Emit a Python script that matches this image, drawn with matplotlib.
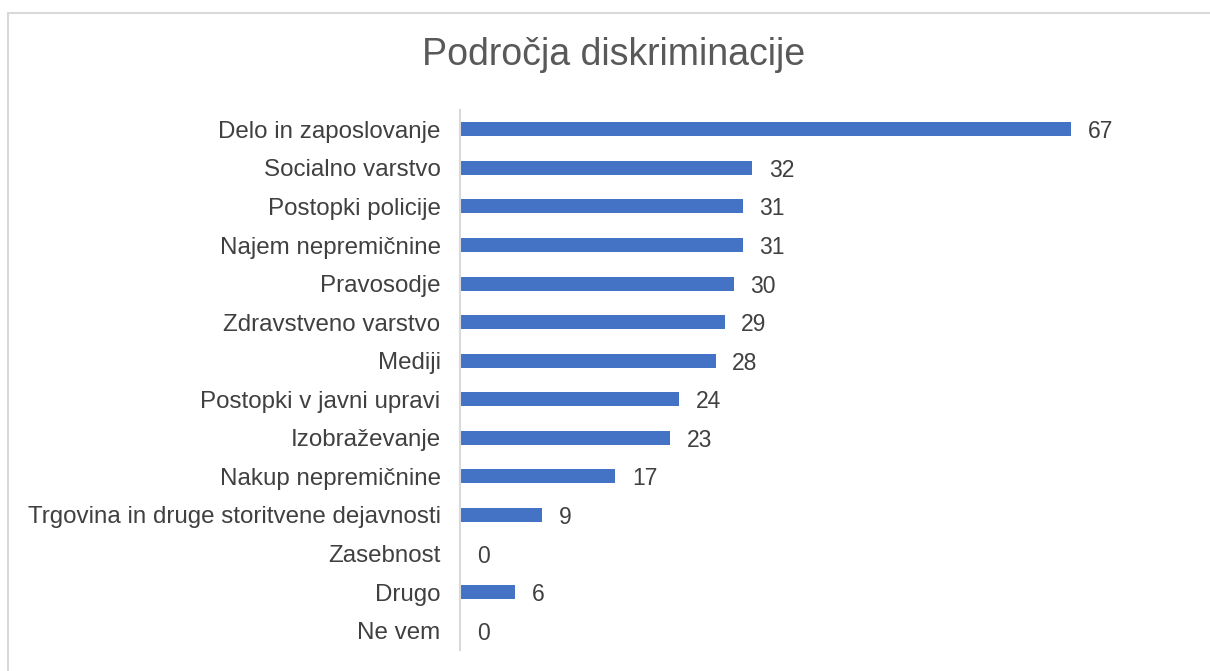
import matplotlib as mpl
mpl.use('Agg')
from matplotlib import pyplot as plt
from matplotlib.patches import Rectangle

plt.rcParams['font.family'] = ['Liberation Sans', 'DejaVu Sans']

categories = ['Delo in zaposlovanje', 'Socialno varstvo', 'Postopki policije',
              'Najem nepremičnine', 'Pravosodje', 'Zdravstveno varstvo', 'Mediji',
              'Postopki v javni upravi', 'Izobraževanje', 'Nakup nepremičnine',
              'Trgovina in druge storitvene dejavnosti', 'Zasebnost', 'Drugo', 'Ne vem']
values = [67, 32, 31, 31, 30, 29, 28, 24, 23, 17, 9, 0, 6, 0]

W, H = 1210, 671
fig = plt.figure(figsize=(W / 100, H / 100), dpi=100)

# light outer frame of the chart area
fig.patches.append(Rectangle((8 / W, -0.1), 1.1, (H - 13) / H + 0.1, transform=fig.transFigure,
                             fill=False, edgecolor='#d9d9d9', linewidth=1.5))

ax = fig.add_axes([460 / W, 21 / H, 730 / W, 540 / H])
y = list(range(len(categories)))
ax.barh(y, values, height=0.36, color='#4472C4')
ax.set_ylim(len(categories) - 0.5, -0.5)
ax.set_xlim(0, 80)

for yi, v in zip(y, values):
    ax.annotate(str(v), (v, yi), xytext=(12, 0), textcoords='offset points',
                va='center_baseline', ha='left', fontsize=16.5, color='#404040')

ax.set_yticks(y)
ax.set_yticklabels(categories, fontsize=17.4, color='#404040', va='center_baseline')
ax.tick_params(axis='y', length=0, pad=14)
ax.set_xticks([])
for s in ['top', 'right', 'bottom']:
    ax.spines[s].set_visible(False)
ax.spines['left'].set_color('#d9d9d9')
ax.spines['left'].set_linewidth(1.5)

fig.text(614 / W, 1 - 55 / H, 'Področja diskriminacije', ha='center', va='center',
         fontsize=27, color='#595959')

plt.savefig('out.png', dpi=100)
plt.close()
